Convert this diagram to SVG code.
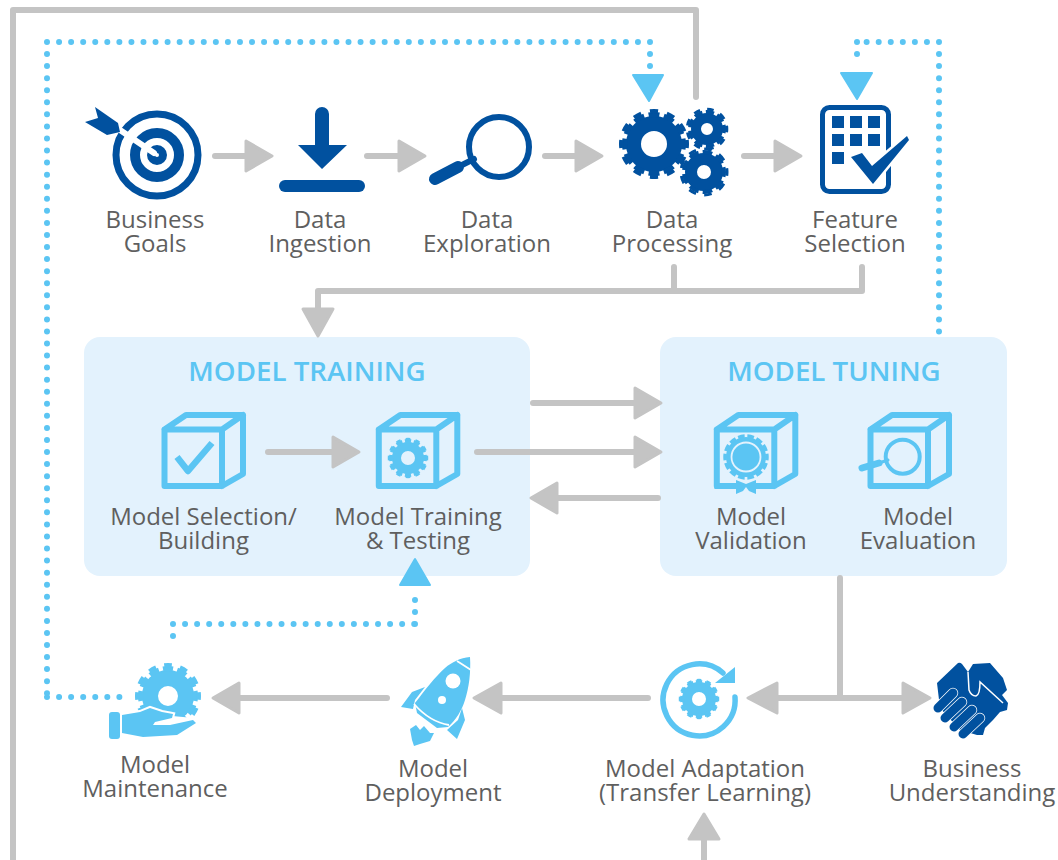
<svg xmlns="http://www.w3.org/2000/svg" width="1058" height="860" viewBox="0 0 1058 860">
<style>
text{font-family:"Open Sans","Noto Sans",sans-serif;font-size:24px;fill:#5f5f5f;text-anchor:middle}
.title{font-size:27.700px;font-weight:600;fill:#5bc5f3}
.panel{fill:#e3f2fd}
.g{fill:none;stroke:#c4c4c4;stroke-width:6;stroke-linecap:round;stroke-linejoin:round}
.h{fill:#c4c4c4;stroke:#c4c4c4;stroke-width:3;stroke-linejoin:round}
.d{fill:none;stroke:#5bc5f3;stroke-width:6;stroke-linecap:round;stroke-dasharray:0 12.06}
.t{fill:#5bc5f3;stroke:#5bc5f3;stroke-width:2;stroke-linejoin:round}
.dk{fill:#01519f}
.dks{fill:none;stroke:#01519f;stroke-linecap:round;stroke-linejoin:round}
.lt{fill:#5bc5f3}
.lts{fill:none;stroke:#5bc5f3;stroke-linecap:round;stroke-linejoin:round}
.a{fill:none;stroke-linecap:butt;stroke-dasharray:1.400 .6;stroke-dashoffset:.7}
.b{fill:none;stroke-linecap:butt;stroke-dasharray:.95 1.050;stroke-dashoffset:.475}
</style>
<defs>
<g id="cube"><path d="M164.500 429.500H222V486H164.500ZM164.500 429.500L186 415H243V474L222 486M222 429.500L243 415" class="lts" stroke-width="6"/></g>
</defs>
<g id="panels">
<rect class="panel" x="84" y="337" width="446" height="239" rx="16"/>
<rect class="panel" x="660" y="337" width="347" height="239" rx="16"/>
</g>
<g id="connectors">
<path class="g" d="M13 860V10H696V97"/>
<path class="g" d="M215 156H248"/><path class="h" d="M246 141L272 156L246 171Z"/>
<path class="g" d="M367 156H400"/><path class="h" d="M399 141L425 156L399 171Z"/>
<path class="g" d="M545 156H577"/><path class="h" d="M576 141L602 156L576 171Z"/>
<path class="g" d="M744 156H776"/><path class="h" d="M775 141L801 156L775 171Z"/>
<path class="g" d="M674 267V291M862 267V291H318V310"/><path class="h" d="M303 309L318 336L333 309Z"/>
<path class="g" d="M533 403H636"/><path class="h" d="M635 388L661 403L635 418Z"/>
<path class="g" d="M477 452H636"/><path class="h" d="M635 437L661 452L635 467Z"/>
<path class="g" d="M268 452H334"/><path class="h" d="M333 437L359 452L333 467Z"/>
<path class="g" d="M658 498H556"/><path class="h" d="M557 483L531 498L557 513Z"/>
<path class="g" d="M840 578V698M778 698H904"/><path class="h" d="M777 683L748 698L777 713Z"/><path class="h" d="M903 683L930 698L903 713Z"/>
<path class="g" d="M648 698H500"/><path class="h" d="M501 683L474 698L501 713Z"/>
<path class="g" d="M387 698H238"/><path class="h" d="M239 683L213 698L239 713Z"/>
<path class="g" d="M704 860V838"/><path class="h" d="M689 839L704 814L719 839Z"/>
<path class="d" d="M47 697H124M47 42V697M47 42H650M650 42V67"/>
<path class="t" d="M633 75H663L649 101Z"/>
<path class="d" d="M939 42V333M939 42H857M857 42V66"/>
<path class="t" d="M841 73H872L857 99Z"/>
<path class="d" d="M173 624V647M173 624H415M415 624V594"/>
<path class="t" d="M400 585H430L415 559Z"/>
</g>
<g id="business-goals">
<circle cx="157" cy="155" r="41" fill="none" stroke="#01519f" stroke-width="7"/>
<circle cx="157" cy="155" r="22" fill="none" stroke="#01519f" stroke-width="10"/>
<circle cx="157" cy="155" r="6" fill="none" stroke="#01519f" stroke-width="8"/>
<path d="M120 130L154 153" stroke="#fff" stroke-width="6" stroke-linecap="round" fill="none"/>
<path class="dk" d="M95 107L118 123L120 132L107 135L85 122L98 118Z"/>
<text x="155" y="228">Business</text><text x="155" y="252">Goals</text>
</g>
<g id="data-ingestion">
<path class="dk" d="M315 114a7 7 0 0 1 14 0V145H347L322 169L298 145H315Z"/>
<rect class="dk" x="279" y="180" width="86" height="12" rx="6"/>
<text x="320" y="228">Data</text><text x="320" y="252">Ingestion</text>
</g>
<g id="data-exploration">
<circle cx="499" cy="147" r="30" class="dks" stroke-width="6"/>
<path class="dks" d="M435 179L458 167" stroke-width="12"/><path class="dks" d="M458 167L474 159" stroke-width="6"/>
<text x="487" y="228">Data</text><text x="487" y="252">Exploration</text>
</g>
<g id="data-processing">
<circle cx="654" cy="144" r="20.500" class="dks" stroke-width="15"/>
<circle cx="654" cy="144" r="29.500" class="dks a" stroke-width="5" pathLength="24"/>
<circle cx="654" cy="144" r="33" class="dks b" stroke-width="4" pathLength="24"/>
<circle cx="707" cy="129" r="11" class="dks" stroke-width="10"/>
<circle cx="707" cy="129" r="17" class="dks a" stroke-width="4" pathLength="18"/>
<circle cx="707" cy="129" r="19.800" class="dks b" stroke-width="3" pathLength="18"/>
<circle cx="704" cy="172" r="13" class="dks" stroke-width="12"/>
<circle cx="704" cy="172" r="20" class="dks a" stroke-width="4" pathLength="18"/>
<circle cx="704" cy="172" r="23" class="dks b" stroke-width="3" pathLength="18"/>
<text x="672" y="228">Data</text><text x="672" y="252">Processing</text>
</g>
<g id="feature-selection">
<rect x="822.500" y="107.500" width="66" height="84" rx="7" fill="none" stroke="#01519f" stroke-width="5"/>
<path class="dk" d="M832 116h12v12h-12zM850 116h12v12h-12zM868 116h12v12h-12zM832 134h12v12h-12zM850 134h12v12h-12zM868 134h12v12h-12zM832 152h12v12h-12z"/>
<path d="M851 157L862 153L872 166L907 136L909 140L873 184Z" fill="#fff" stroke="#fff" stroke-width="5"/>
<path class="dk" d="M851 157L862 153L872 166L907 136L909 140L873 184Z"/>
<text x="855" y="228">Feature</text><text x="855" y="252">Selection</text>
</g>
<g id="model-training-group"><text class="title" x="307" y="381">MODEL TRAINING</text></g>
<g id="model-tuning-group"><text class="title" x="834" y="381">MODEL TUNING</text></g>
<g id="model-selection">
<use href="#cube"/>
<path class="lts" d="M177 457L188 471L212 443" stroke-width="6.500" style="stroke-linecap:butt"/>
<text x="203.500" y="525">Model Selection/</text><text x="203.500" y="549">Building</text>
</g>
<g id="model-training">
<use href="#cube" x="214.300"/>
<circle cx="408" cy="458" r="11.500" class="lts" stroke-width="9"/>
<circle cx="408" cy="458" r="17" class="lts a" stroke-width="4" pathLength="24"/>
<circle cx="408" cy="458" r="19" class="lts b" stroke-width="2.500" pathLength="24"/>
<text x="418" y="525">Model Training</text><text x="418" y="549">&amp; Testing</text>
</g>
<g id="model-validation">
<use href="#cube" x="552.300"/>
<rect x="730" y="470" width="32" height="24" class="panel"/>
<path class="lts" d="M714.500 486H738M754 486H774.500" stroke-width="6" style="stroke-linecap:butt"/>
<circle cx="746" cy="457" r="20" class="lt"/>
<circle cx="746" cy="457" r="21" class="lts a" stroke-width="3.500" pathLength="28"/>
<circle cx="746" cy="457" r="14.500" fill="none" stroke="#e3f2fd" stroke-width="1.800"/>
<path class="lt" d="M736 480L746 484L756 480V494L749 491L746 487L743 491L736 494Z"/>
<text x="751" y="525">Model</text><text x="751" y="549">Validation</text>
</g>
<g id="model-evaluation">
<use href="#cube" x="706"/>
<circle cx="902.700" cy="456.700" r="17" fill="#e3f2fd" stroke="#5bc5f3" stroke-width="4"/>
<path class="lts" d="M862 468L879 463" stroke-width="7"/><path class="lts" d="M879 463L888 460" stroke-width="3"/>
<text x="918" y="525">Model</text><text x="918" y="549">Evaluation</text>
</g>
<g id="model-maintenance">
<circle cx="168" cy="696" r="18" class="lts" stroke-width="16"/>
<circle cx="168" cy="696" r="27.500" class="lts a" stroke-width="5" pathLength="24"/>
<circle cx="168" cy="696" r="31" class="lts b" stroke-width="4" pathLength="24"/>
<path d="M122 715L140 712L150 708L162 712L173 714L172 718L193 720L196 723L177 735L143 737L122 733Z" fill="#fff" stroke="#fff" stroke-width="4"/>
<rect x="109" y="712" width="11" height="27" rx="3" class="lt"/>
<path class="lt" d="M122 715L140 712L150 708L162 712L173 714L172 718L155 722L153 725L170 725L193 720L196 723L177 735L143 737L122 733Z"/>
<text x="155" y="773">Model</text><text x="155" y="797">Maintenance</text>
</g>
<g id="model-deployment">
<path class="lt" d="M401 707L412 692L425 687L415 700L413 709ZM447 730L458 720L462 708L465 720L457 739ZM410 729L416 725L420 730L424 726L430 733L434 733L430 741L420 744L414 746L412 740Z"/>
<path class="lt" d="M470 657C460 658 452 662 445 668C435 677 425 690 415 703L417 713L437 728L448 727C456 720 462 710 465 700C469 688 471 672 470 657Z"/>
<circle cx="453" cy="681" r="7.500" fill="#fff"/><circle cx="442" cy="700" r="4" fill="#fff"/>
<path d="M457 661L471 670M414 704Q430 722 449 725" fill="none" stroke="#fff" stroke-width="1.800"/>
<text x="433" y="777">Model</text><text x="433" y="801">Deployment</text>
</g>
<g id="model-adaptation">
<path class="lts" d="M735 697A36 36 0 1 1 723 673" stroke-width="5.500"/>
<path class="lt" d="M735 667V683H715Z"/>
<circle cx="699" cy="699" r="12" class="lts" stroke-width="10"/>
<circle cx="699" cy="699" r="17" class="lts a" stroke-width="4" pathLength="24"/>
<circle cx="699" cy="699" r="19" class="lts b" stroke-width="2.500" pathLength="24"/>
<text x="705" y="777">Model Adaptation</text><text x="705" y="801">(Transfer Learning)</text>
</g>
<g id="business-understanding">
<path class="dk" d="M937 683L958 663Q960 662 962 664L968 672L973 664L990 663L1003 678L1007 690L1002 695L1008 703L1007 710L1000 712L993 720L985 728L983 735L977 735L960 730L940 708Z"/>
<path d="M968 672L969 690Q971 696 976 696Q980 695 980 682L1003 703" fill="none" stroke="#fff" stroke-width="1.500"/>
<g fill="none" stroke-linecap="round">
<path d="M938 708L953 693M945 718L962 702M954 727L972 710M963 734L980 718" stroke="#fff" stroke-width="10.500"/>
<path d="M938 708L953 693M945 718L962 702M954 727L972 710M963 734L980 718" stroke="#01519f" stroke-width="9"/>
</g>
<text x="972" y="777">Business</text><text x="972" y="801">Understanding</text>
</g>
</svg>
